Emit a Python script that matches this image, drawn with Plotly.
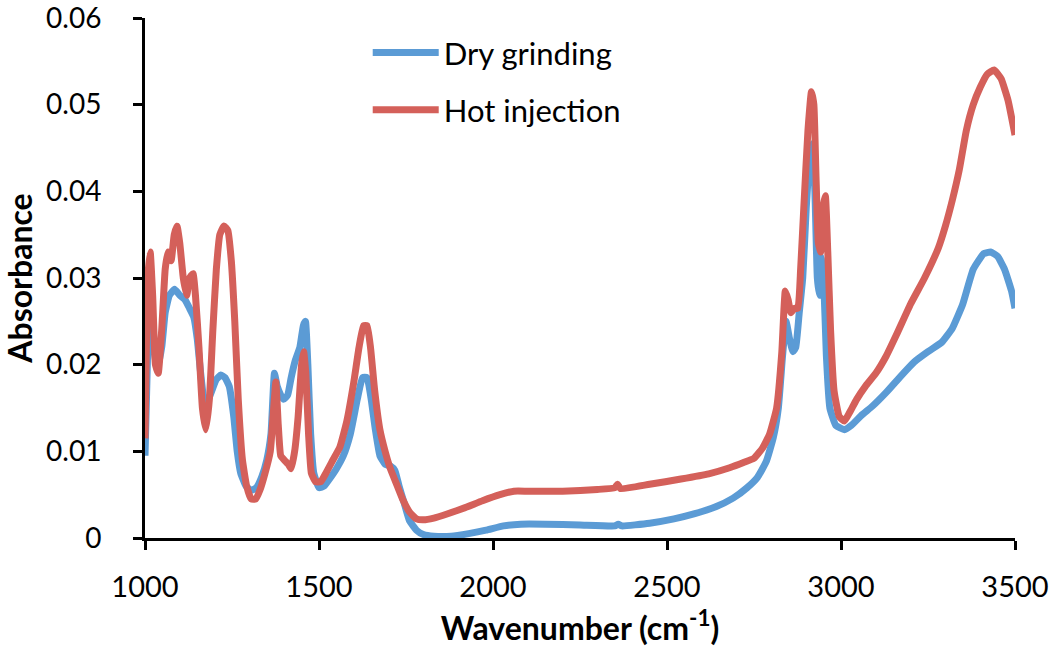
import plotly.graph_objects as go

# Dry grinding (blue)
dry_x = [1000, 1008, 1015, 1025, 1035, 1048, 1058, 1070, 1085, 1100, 1115, 1128, 1140, 1150, 1160, 1170, 1180, 1192,
         1205, 1218, 1230, 1242, 1255, 1265, 1275, 1290, 1305, 1320, 1335, 1350, 1362, 1372, 1380, 1390, 1398, 1410,
         1420, 1432, 1445, 1455, 1461, 1468, 1476, 1485, 1500, 1515, 1530, 1550, 1570, 1590, 1610, 1625, 1638, 1650,
         1662, 1675, 1690, 1705, 1718, 1730, 1745, 1760, 1780, 1800, 1830, 1880, 1930, 1980, 2030, 2080, 2150, 2250,
         2350, 2360, 2370, 2450, 2520, 2580, 2640, 2690, 2730, 2760, 2785, 2805, 2820, 2832, 2842, 2852, 2862, 2870,
         2880, 2890, 2900, 2910, 2918, 2925, 2932, 2938, 2944, 2950, 2958, 2968, 2985, 3010, 3030, 3060, 3090, 3130,
         3170, 3210, 3250, 3290, 3320, 3350, 3380, 3410, 3430, 3450, 3470, 3490, 3500]
dry_y = [0.0095, 0.022, 0.026, 0.022, 0.0195, 0.022, 0.026, 0.028, 0.0287, 0.028, 0.0275, 0.0265, 0.0255, 0.023, 0.019,
         0.016, 0.0158, 0.017, 0.0183, 0.0188, 0.0185, 0.0175, 0.014, 0.010, 0.0075, 0.006, 0.0055, 0.0058, 0.007, 0.009,
         0.012, 0.019, 0.0175, 0.0165, 0.016, 0.0165, 0.0185, 0.0205, 0.022, 0.0245, 0.025, 0.020, 0.012, 0.0075, 0.0058,
         0.006, 0.0068, 0.008, 0.0095, 0.012, 0.016, 0.0185, 0.0185, 0.016, 0.0125, 0.0095, 0.0085, 0.0083, 0.0078, 0.006,
         0.004, 0.002, 0.0009, 0.0004, 0.0002, 0.0002, 0.0005, 0.0009, 0.0014, 0.0016, 0.0016, 0.0015, 0.0014, 0.0016,
         0.0014, 0.0017, 0.0022, 0.0028, 0.0036, 0.0046, 0.0058, 0.007, 0.0088, 0.0115, 0.015, 0.021, 0.025, 0.023,
         0.0215, 0.022, 0.026, 0.030, 0.038, 0.044, 0.0455, 0.040, 0.030, 0.028, 0.0325, 0.030, 0.021, 0.015, 0.013,
         0.0125, 0.013, 0.0142, 0.0152, 0.0168, 0.0186, 0.0203, 0.0215, 0.0226, 0.0242, 0.027, 0.031, 0.0328, 0.033,
         0.0325, 0.031, 0.0285, 0.0265]

# Hot injection (red)
hot_x = [1000, 1008, 1015, 1022, 1030, 1038, 1048, 1058, 1066, 1075, 1084, 1092, 1100, 1110, 1120, 1128, 1138, 1145,
         1155, 1165, 1175, 1185, 1195, 1205, 1215, 1227, 1238, 1248, 1258, 1268, 1280, 1292, 1305, 1318, 1330, 1345,
         1360, 1368, 1376, 1383, 1390, 1400, 1412, 1420, 1430, 1440, 1450, 1456, 1462, 1470, 1478, 1490, 1505, 1520,
         1540, 1560, 1580, 1600, 1615, 1628, 1638, 1648, 1660, 1675, 1690, 1705, 1720, 1740, 1760, 1780, 1800, 1830,
         1870, 1920, 1970, 2020, 2060, 2100, 2200, 2300, 2350, 2358, 2366, 2450, 2540, 2620, 2680, 2720, 2750, 2775,
         2795, 2815, 2830, 2840, 2848, 2856, 2866, 2876, 2884, 2893, 2905, 2915, 2922, 2928, 2935, 2942, 2948, 2955,
         2962, 2970, 2980, 2995, 3010, 3025, 3045, 3070, 3100, 3130, 3160, 3200, 3240, 3280, 3300, 3320, 3340, 3360,
         3380, 3400, 3420, 3440, 3460, 3480, 3500]
hot_y = [0.0115, 0.030, 0.033, 0.028, 0.020, 0.019, 0.024, 0.031, 0.033, 0.032, 0.035, 0.036, 0.034, 0.030, 0.028,
         0.030, 0.0305, 0.028, 0.022, 0.015, 0.0125, 0.016, 0.024, 0.031, 0.035, 0.036, 0.0355, 0.032, 0.025, 0.016,
         0.009, 0.006, 0.0045, 0.0045, 0.0055, 0.0075, 0.010, 0.014, 0.018, 0.013, 0.0095, 0.009, 0.0085, 0.008, 0.010,
         0.014, 0.020, 0.0215, 0.019, 0.012, 0.0075, 0.0065, 0.0065, 0.0075, 0.009, 0.0105, 0.0135, 0.018, 0.022, 0.0245,
         0.0245, 0.022, 0.017, 0.0125, 0.010, 0.008, 0.0065, 0.0045, 0.003, 0.0022, 0.0021, 0.0023, 0.0028, 0.0035,
         0.0043, 0.005, 0.0054, 0.0054, 0.0054, 0.0056, 0.0058, 0.0062, 0.0057, 0.0062, 0.0068, 0.0074, 0.0081, 0.0087,
         0.0092, 0.0104, 0.012, 0.015, 0.0215, 0.0285, 0.0275, 0.026, 0.0265, 0.0265, 0.031, 0.038, 0.047, 0.0515, 0.050,
         0.042, 0.034, 0.033, 0.038, 0.0395, 0.033, 0.024, 0.017, 0.014, 0.0135, 0.0145, 0.016, 0.0175, 0.019, 0.021,
         0.0235, 0.027, 0.030, 0.0335, 0.036, 0.039, 0.0425, 0.047, 0.050, 0.052, 0.0535, 0.054, 0.053, 0.0505, 0.0465]

x_ticks = [1000, 1500, 2000, 2500, 3000, 3500]
y_ticks = [0, 0.01, 0.02, 0.03, 0.04, 0.05, 0.06]
y_tick_labels = ["0", "0.01", "0.02", "0.03", "0.04", "0.05", "0.06"]

FONT = "Lato, 'Open Sans', sans-serif"
BLUE = "#5B9BD5"
RED = "#D4605A"

fig = go.Figure()
fig.add_trace(go.Scatter(x=dry_x, y=dry_y, mode="lines", name="Dry grinding", legendgroup="a",
                         line=dict(color=BLUE, width=7, shape="spline", smoothing=0.4)))
fig.add_trace(go.Scatter(x=hot_x, y=hot_y, mode="lines", name="Hot injection", legendgroup="b",
                         line=dict(color=RED, width=7, shape="spline", smoothing=0.4)))

fig.update_layout(
    width=1050, height=655,
    margin=dict(l=145, r=35, t=18, b=117, autoexpand=False),
    paper_bgcolor="white", plot_bgcolor="white",
    font=dict(family=FONT, size=28, color="black"),
    showlegend=True,
    legend=dict(x=0.256, y=0.985, xanchor="left", yanchor="top", bgcolor="rgba(0,0,0,0)",
                font=dict(size=31), tracegroupgap=14, itemwidth=66),
    xaxis=dict(range=[1000, 3500], tickvals=x_ticks, showgrid=False, zeroline=False, automargin=False,
               showline=True, linecolor="black", linewidth=3, ticks="outside", ticklen=9,
               tickwidth=3, tickcolor="black", tickfont=dict(size=29), ticklabelstandoff=12,
               ticklabeloverflow="allow",
               title=dict(text="<b>Wavenumber (cm<sup>-1</sup>)</b>", font=dict(size=32), standoff=16)),
    yaxis=dict(range=[0, 0.06], tickvals=y_ticks, ticktext=y_tick_labels, showgrid=False, zeroline=False,
               automargin=False, ticklabeloverflow="allow",
               showline=True, linecolor="black", linewidth=3, ticks="outside", ticklen=9,
               tickwidth=3, tickcolor="black", tickfont=dict(size=28), ticklabelstandoff=26,
               title=dict(text="<b>Absorbance</b>", font=dict(size=32), standoff=12)),
)

fig.write_html("out.html", config={"displayModeBar": False},
               post_script="document.body.style.margin='0px';document.body.style.overflow='hidden';")
